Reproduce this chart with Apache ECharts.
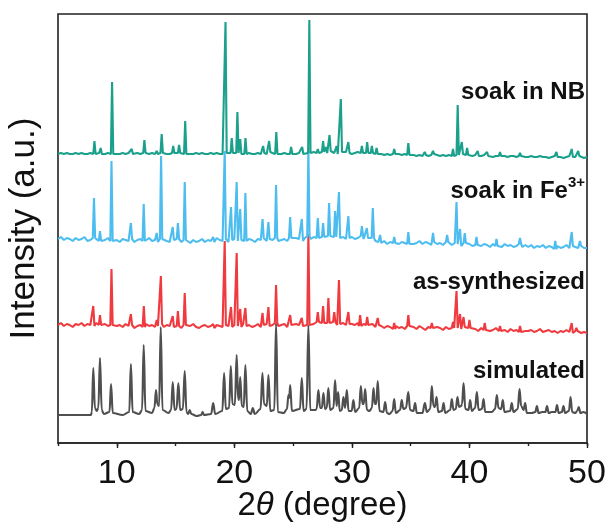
<!DOCTYPE html>
<html><head><meta charset="utf-8">
<script src="https://cdn.jsdelivr.net/npm/echarts/dist/echarts.min.js"></script>
<style>html,body{margin:0;padding:0;background:#fff}#c{width:609px;height:524px}</style>
</head><body><div id="c"></div>
<script>
// x grid of the measured baselines (2θ, degrees): start and step
const X0 = 5, STEP = 0.25;
const seriesNames = ['soak in NB', 'soak in Fe3+', 'as-synthesized', 'simulated'];
const xTickLabels = [10, 20, 30, 40, 50];
// vertical stacking offsets of the four patterns (a.u.)
const offsets = [289, 203, 118, 28];

// baseline (noise) intensities on the x grid, a.u.
const nbBase = [
 0,1,0,1,0,0,1,0,1,0, 0,1,0,0,1,0,0,1,0,1,
 0,0,1,0,1,0,0,1,0,1, 0,0,1,0,0,1,1,0,0,1,
 0,1,0,0,1,0,0,1,0,1, 0,0,1,0,1,0,0,1,0,1,
 0,1,0,1,0,1,0,0,1,0, 1,0,2,1,0,1,0,1,0,0,
 1,0,1,0,1,2,1,2,1,3, 2,1,3,2,1,0,2,1,2,1,
 0,1,2,1,2,1,0,1,0,1, 0,-1,0,-1,0,1,0,-1,0,-1,
 0,-1,-2,-1,-2,-1,-2,-1,0,-1, -2,-1,-2,-1,-2,-1,-1,0,-1,-1,
 -1,-2,-1,-2,-2,-1,-2,-1,-3,-2, -2,-1,-2,-3,-2,-2,-3,-2,-2,-3,
 -3,-2,-3,-3,-2,-3,-3,-4,-3,-2, -3,-3,-4,-3,-2,-3,-3,-2,-3,-4,
 -3];
const feBase = [
 1,3,0,2,1,-1,2,0,1,3, -1,0,2,1,-1,1,0,2,-1,1,
 0,-2,1,0,-1,1,-2,0,1,-1, 0,2,-1,0,-2,1,0,-1,-2,0,
 -1,1,-2,0,-1,-3,0,-2,-1,1, -2,0,-1,-2,2,0,-1,1,-2,0,
 1,-1,0,2,-1,1,0,-2,1,0, 2,-1,1,0,2,-1,0,1,-1,2,
 0,2,1,-1,2,4,1,3,2,4, 3,1,4,2,3,5,2,3,1,2,
 3,1,2,4,1,2,0,2,-1,-2, -3,-1,-4,-2,-3,-1,-4,-2,-3,-4,
 -2,-4,-3,-1,-4,-2,-3,-5,-2,-4, -3,-5,-2,-4,-5,-3,-4,-6,-3,-5,
 -4,-6,-5,-3,-6,-4,-5,-7,-4,-6, -5,-7,-4,-6,-5,-7,-6,-4,-7,-5,
 -7,-5,-8,-6,-7,-5,-8,-6,-7,-9, -6,-8,-7,-5,-8,-6,-7,-8,-6,-8,
 -8];
const asBase = [
 0,2,-1,1,0,-2,1,0,2,-1, 1,0,-1,2,0,-2,1,-1,0,1,
 -1,0,-2,1,-1,0,-3,-1,0,-2, 1,-1,0,-2,-1,1,-2,0,-1,-2,
 0,-1,-3,0,-2,-1,1,-2,-3,-1, 0,-2,-1,-3,0,-1,-2,0,-1,-2,
 0,-1,-2,1,-1,0,-2,-1,1,-2, 0,1,-1,0,2,-1,0,1,-2,0,
 -1,1,0,-1,1,0,2,1,3,1, 2,0,2,1,3,0,1,2,0,1,
 1,0,2,-1,1,0,-1,1,-2,0, -1,-3,-1,-2,-4,-1,-3,-2,-4,-1,
 -3,-2,-4,-1,-3,-5,-2,-3,-4,-2, -3,-5,-2,-4,-3,-1,-3,-4,-2,-4,
 -3,-5,-4,-6,-3,-5,-4,-6,-5,-3, -6,-4,-5,-7,-4,-6,-5,-7,-5,-6,
 -6,-5,-7,-6,-4,-7,-6,-5,-7,-6, -8,-6,-7,-5,-7,-8,-6,-7,-8,-7,
 -8];

// reflections: [2θ, height above local baseline]
const nbPeaks = [[8.1,13],[8.63,6],[9.6,72],[11.27,5],[12.35,13],[13.4,3],[13.82,19],[14.8,7],[15.3,8],[15.82,33],[19.25,131],[19.78,15],[20.26,41],[20.5,15],[20.95,16],[22.45,7],[22.96,11],[23.57,22],[24.83,7],[25.77,7],[26.38,133],[27.1,4],[27.55,11],[27.8,6],[28.1,16],[28.7,8],[29.06,53],[29.7,11],[30.85,7],[31.3,11],[31.7,7],[32.1,6],[33.6,5],[34.8,12],[36.2,3],[36.9,3],[38.6,7],[39.0,50],[39.35,12],[39.8,7],[40.7,5],[41.5,4],[42.6,4],[44.3,3],[47.4,5],[48.7,8],[49.25,5]];
const fePeaks = [[8.06,40],[8.57,10],[9.55,80],[11.2,16],[12.29,37],[13.4,9],[13.77,83],[14.76,13],[15.2,16],[15.78,58],[18.2,5],[19.18,88],[19.72,33],[20.2,59],[20.5,31],[20.94,48],[22.4,19],[22.9,17],[23.55,53],[24.75,21],[25.74,22],[26.3,88],[27.1,20],[27.55,14],[28.06,33],[28.57,26],[28.9,46],[29.7,22],[30.85,10],[31.27,10],[31.78,30],[32.4,8],[33.6,6],[34.8,12],[36.9,9],[38.1,7],[38.9,42],[39.2,17],[39.6,10],[40.6,8],[42.3,7],[44.3,6],[47.3,8],[48.7,14],[49.4,5]];
const asPeaks = [[8.0,20],[8.57,10],[9.55,56],[11.2,11],[12.3,21],[13.4,6],[13.75,48],[14.76,11],[15.2,15],[15.78,32],[18.2,4],[19.18,84],[19.72,20],[20.2,73],[20.5,18],[20.94,18],[22.4,12],[22.9,19],[23.55,38],[24.75,10],[25.74,8],[26.3,91],[27.1,10],[27.55,17],[28.0,25],[28.5,10],[28.9,44],[29.7,12],[30.7,11],[31.3,8],[32.2,7],[33.6,6],[34.8,11],[36.8,5],[38.6,6],[38.9,37],[39.2,15],[39.5,10],[40.0,8],[41.3,7],[42.6,5],[44.3,6],[48.7,10],[49.1,3]];

// simulated pattern, [2θ, intensity]
const simPoints = [[5,0],[7.8,0],[7.88,3],[8.0,47],[8.14,7],[8.3,4],[8.43,7],[8.57,57],[8.72,5],[8.9,1],[9.38,3],[9.51,31],[9.66,2],[10.5,0],[11.06,3],[11.2,51],[11.35,3],[11.9,1],[12.15,5],[12.29,70],[12.44,4],[13.0,2],[13.2,7],[13.34,25],[13.45,11],[13.6,9],[13.74,88],[13.89,5],[14.4,2],[14.62,5],[14.76,33],[14.92,5],[15.08,6],[15.24,32],[15.39,5],[15.62,6],[15.78,44],[15.93,3],[16.08,1],[16.2,5],[16.34,1],[16.8,-1],[17.18,0],[17.3,3],[17.42,0],[18.03,1],[18.2,12],[18.37,1],[18.98,4],[19.13,42],[19.28,6],[19.55,7],[19.7,49],[19.84,11],[20.04,10],[20.2,60],[20.32,16],[20.4,15],[20.5,38],[20.64,9],[20.8,8],[20.94,50],[21.1,4],[21.4,1],[21.57,7],[21.74,1],[22.23,6],[22.39,42],[22.53,11],[22.76,9],[22.9,40],[23.06,4],[23.4,5],[23.55,92],[23.7,3],[24.2,2],[24.48,6],[24.6,20],[24.67,17],[24.75,30],[24.9,4],[25.58,6],[25.74,37],[25.89,4],[26.14,6],[26.3,90],[26.46,5],[26.9,5],[27.0,6],[27.15,25],[27.3,7],[27.44,7],[27.58,22],[27.72,6],[27.86,7],[28.0,27],[28.15,5],[28.43,7],[28.57,35],[28.7,9],[28.83,23],[28.97,4],[29.14,5],[29.28,18],[29.42,7],[29.57,25],[29.72,4],[29.98,4],[30.13,15],[30.28,3],[30.62,7],[30.76,29],[30.9,11],[31.0,11],[31.13,26],[31.28,5],[31.5,4],[31.7,7],[31.84,27],[31.96,11],[32.07,11],[32.2,34],[32.35,4],[32.68,3],[32.83,13],[32.98,2],[33.2,1],[33.46,4],[33.6,16],[33.74,2],[34.1,5],[34.24,15],[34.38,6],[34.6,7],[34.8,23],[34.95,5],[35.23,4],[35.38,12],[35.52,2],[36.0,2],[36.21,12],[36.38,3],[36.66,6],[36.8,29],[36.94,9],[37.06,8],[37.2,18],[37.35,3],[37.66,4],[37.8,12],[37.94,2],[38.36,5],[38.5,16],[38.64,5],[38.84,6],[38.98,18],[39.12,8],[39.3,9],[39.37,11],[39.5,32],[39.65,6],[39.92,5],[40.06,15],[40.2,4],[40.48,7],[40.63,23],[40.78,5],[41.06,6],[41.2,16],[41.34,3],[41.9,3],[42.18,6],[42.33,20],[42.47,7],[42.7,6],[42.84,15],[42.98,3],[43.46,4],[43.6,12],[43.74,3],[44.11,6],[44.26,26],[44.4,9],[44.6,5],[44.74,12],[44.88,2],[45.3,2],[45.6,3],[45.74,9],[45.88,2],[46.2,3],[46.46,3],[46.6,9],[46.74,2],[47.0,3],[47.31,3],[47.45,10],[47.59,2],[47.86,3],[48.0,9],[48.14,2],[48.46,4],[48.6,18],[48.74,3],[49.0,2],[49.16,4],[49.3,8],[49.44,2],[49.7,3],[50,1]];

const colors = ['#1ba08b', '#4dbdf0', '#ef3a3f', '#4f4f4f'];

function buildTrace(base, peaks, offset) {
  const hw = 0.1;
  const pts = [];
  base.forEach((v, i) => {
    const x = X0 + i * STEP;
    if (peaks.some(p => Math.abs(p[0] - x) < hw + 0.03)) return;
    pts.push([x, v + offset]);
  });
  peaks.forEach(p => {
    const b = base[Math.round((p[0] - X0) / STEP)] + offset;
    pts.push([p[0] - hw, b], [p[0], b + p[1]], [p[0] + hw, b]);
  });
  pts.sort((a, b) => a[0] - b[0]);
  return pts;
}

const data = [
  buildTrace(nbBase, nbPeaks, offsets[0]),
  buildTrace(feBase, fePeaks, offsets[1]),
  buildTrace(asBase, asPeaks, offsets[2]),
  simPoints.map(p => [p[0], p[1] + offsets[3]])
];

const FONT = '"Liberation Sans", Arial, sans-serif';
const chart = echarts.init(document.getElementById('c'), null, {renderer: 'canvas'});
chart.setOption({
  animation: false,
  backgroundColor: '#fff',
  grid: {left: 58, right: 22, top: 14, bottom: 81, show: true, borderColor: '#222', borderWidth: 1.6,
         backgroundColor: 'transparent', containLabel: false, outerBoundsMode: 'none'},
  xAxis: [{
    type: 'value', min: 5, max: 50, interval: 5,
    axisLine: {lineStyle: {color: '#222', width: 1.6}},
    axisTick: {length: 3, lineStyle: {color: '#222', width: 1.4}},
    splitLine: {show: false},
    axisLabel: {customValues: xTickLabels, fontSize: 34, color: '#111', fontFamily: FONT, margin: 14},
    name: '2{i|θ} (degree)', nameLocation: 'middle', nameGap: 46, nameMoveOverlap: false,
    nameTextStyle: {fontSize: 33, color: '#111', fontFamily: FONT,
      rich: {i: {fontSize: 33, fontStyle: 'italic', color: '#111', fontFamily: FONT}}}
  }, {
    type: 'value', min: 5, max: 50, interval: 5, position: 'bottom',
    axisLine: {show: false},
    axisTick: {customValues: xTickLabels, length: 5, lineStyle: {color: '#222', width: 1.4}},
    axisLabel: {show: false}, splitLine: {show: false}
  }],
  yAxis: {
    type: 'value', min: 0, max: 429,
    axisLine: {show: false}, axisTick: {show: false}, axisLabel: {show: false}, splitLine: {show: false},
    name: 'Intensity (a.u.)', nameLocation: 'middle', nameGap: 16, nameMoveOverlap: false,
    nameTextStyle: {fontSize: 35, color: '#111', fontFamily: FONT}
  },
  series: data.map((d, i) => ({
    name: seriesNames[i], type: 'line', data: d, showSymbol: false,
    smooth: i === 3 ? 0.4 : false, smoothMonotone: 'x',
    lineStyle: {color: colors[i], width: 2.1}, z: 10 - i
  })),
  graphic: [
    {type: 'text', right: 24, top: 80, style: {text: 'soak in NB', font: 'bold 24px ' + FONT, fill: '#111'}},
    {type: 'text', right: 24, top: 175, style: {
      text: '{a|soak in Fe}{s|3+}', fill: '#111',
      rich: {a: {font: 'bold 24px ' + FONT, fill: '#111', lineHeight: 28, verticalAlign: 'bottom'},
             s: {font: 'bold 15px ' + FONT, fill: '#111', lineHeight: 15, verticalAlign: 'top'}}}},
    {type: 'text', right: 24, top: 270, style: {text: 'as-synthesized', font: 'bold 24px ' + FONT, fill: '#111'}},
    {type: 'text', right: 24, top: 359, style: {text: 'simulated', font: 'bold 24px ' + FONT, fill: '#111'}}
  ]
});
</script></body></html>
